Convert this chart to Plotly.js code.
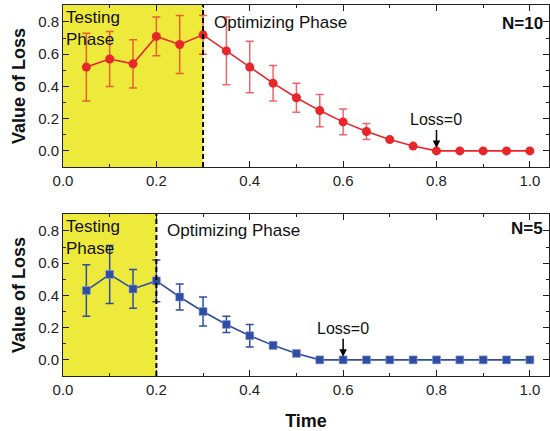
<!DOCTYPE html>
<html>
<head>
<meta charset="utf-8">
<script src="https://cdn.plot.ly/plotly-3.0.1.min.js"></script>
<style>
  html, body { margin: 0; padding: 0; background: #fff; }
  #chart { width: 550px; height: 431px; }
</style>
</head>
<body>
<div id="chart"></div>
<script>
// Time steps shared by both runs
const time = [0.05, 0.10, 0.15, 0.20, 0.25, 0.30, 0.35, 0.40, 0.45, 0.50,
              0.55, 0.60, 0.65, 0.70, 0.75, 0.80, 0.85, 0.90, 0.95, 1.00];

// N = 10 run
const lossN10 = [0.52, 0.57, 0.54, 0.71, 0.66, 0.72, 0.62, 0.52, 0.42, 0.33,
                 0.25, 0.18, 0.12, 0.07, 0.03, 0.00, 0.00, 0.00, 0.00, 0.00];
const errN10  = [0.21, 0.17, 0.15, 0.12, 0.18, 0.12, 0.21, 0.16, 0.11, 0.09,
                 0.10, 0.08, 0.05, 0.01, 0.00, 0.00, 0.00, 0.00, 0.00, 0.00];

// N = 5 run
const lossN5 = [0.43, 0.53, 0.44, 0.49, 0.39, 0.30, 0.22, 0.15, 0.09, 0.04,
                0.00, 0.00, 0.00, 0.00, 0.00, 0.00, 0.00, 0.00, 0.00, 0.00];
const errN5  = [0.16, 0.18, 0.12, 0.13, 0.08, 0.09, 0.05, 0.07, 0.02, 0.00,
                0.00, 0.00, 0.00, 0.00, 0.00, 0.00, 0.00, 0.00, 0.00, 0.00];

// Phase boundaries and the time at which the loss first reaches zero
const testEndN10 = 0.3, zeroAtN10 = 0.8;
const testEndN5  = 0.2, zeroAtN5  = 0.6;

const tickVals = [0.0, 0.2, 0.4, 0.6, 0.8, 1.0];
const tickText = ['0.0', '0.2', '0.4', '0.6', '0.8', '1.0'];
const yTickVals = [0.0, 0.2, 0.4, 0.6, 0.8];
const yTickText = ['0.0', '0.2', '0.4', '0.6', '0.8'];

const FONT = 'Arial, "Liberation Sans", Helvetica, sans-serif';
const RED = '#e8252b';
const BLUE = '#2e4da3';
const YELLOW = '#eeea3c';

const traces = [
  {
    x: time, y: lossN10, xaxis: 'x2', yaxis: 'y2',
    type: 'scatter', mode: 'lines+markers',
    line: { color: RED, width: 1.6 },
    marker: { color: RED, size: 9, symbol: 'circle' },
    error_y: { type: 'data', array: errN10, visible: true,
               color: 'rgba(232,37,43,0.7)', thickness: 1.5, width: 4 },
    showlegend: false, hoverinfo: 'x+y'
  },
  {
    x: time, y: lossN5, xaxis: 'x', yaxis: 'y',
    type: 'scatter', mode: 'lines+markers',
    line: { color: BLUE, width: 1.6 },
    marker: { color: BLUE, size: 8, symbol: 'square',
              line: { color: '#8fa3d6', width: 0.6 } },
    error_y: { type: 'data', array: errN5, visible: true,
               color: BLUE, thickness: 1.5, width: 4 },
    showlegend: false, hoverinfo: 'x+y'
  }
];

function xAxis(anchor) {
  return {
    anchor: anchor, domain: [0, 1], range: [0, 1.041],
    tickvals: tickVals, ticktext: tickText,
    ticks: 'inside', ticklen: 6, tickwidth: 1, tickcolor: '#222',
    minor: { ticks: 'inside', dtick: 0.1, tick0: 0, ticklen: 3, tickcolor: '#222' },
    showline: true, linecolor: '#222', linewidth: 1, mirror: 'allticks',
    showgrid: false, zeroline: false,
    tickfont: { family: FONT, size: 15, color: '#222' }
  };
}

function yAxis(anchor, domain) {
  return {
    anchor: anchor, domain: domain, range: [-0.1, 0.905],
    tickvals: yTickVals, ticktext: yTickText,
    ticks: 'inside', ticklen: 6, tickwidth: 1, tickcolor: '#222',
    minor: { ticks: 'inside', dtick: 0.1, tick0: 0, ticklen: 3, tickcolor: '#222' },
    showline: true, linecolor: '#222', linewidth: 1, mirror: 'allticks',
    showgrid: false, zeroline: false,
    tickfont: { family: FONT, size: 15, color: '#222' },
    title: { text: '<b>Value of Loss</b>', standoff: 7,
             font: { family: FONT, size: 18, color: '#111' } }
  };
}

const xaxisBottom = xAxis('y');
xaxisBottom.title = { text: '<b>Time</b>', standoff: 18,
                      font: { family: FONT, size: 18, color: '#111' } };

function phaseShapes(xref, yref, testEnd) {
  return [
    { type: 'rect', xref: xref, yref: yref + ' domain', x0: 0, x1: testEnd, y0: 0, y1: 1,
      fillcolor: YELLOW, line: { width: 0 }, layer: 'below' },
    { type: 'line', xref: xref, yref: yref + ' domain', x0: testEnd, x1: testEnd, y0: 0, y1: 1,
      line: { color: '#000', width: 2, dash: '5px,3px' }, layer: 'above' }
  ];
}

function phaseLabels(xref, yref, testEnd, nText, nShift, zeroAt) {
  const f = { family: FONT, size: 17, color: '#111' };
  return [
    { xref: xref, yref: yref + ' domain', x: 0, y: 1, xanchor: 'left', yanchor: 'top',
      xshift: 1, yshift: -1, align: 'left', showarrow: false,
      text: 'Testing<br>Phase', font: f },
    { xref: xref, yref: yref + ' domain', x: testEnd, y: 1, xanchor: 'left', yanchor: 'middle',
      xshift: 9, yshift: -17, showarrow: false, text: 'Optimizing Phase', font: f },
    { xref: 'paper', yref: yref + ' domain', x: 1, y: 1, xanchor: 'right', yanchor: 'middle',
      xshift: -4, yshift: nShift, showarrow: false, text: '<b>' + nText + '</b>',
      font: { family: FONT, size: 17, color: '#111' } },
    { xref: xref, yref: yref, x: zeroAt, y: 0, ax: 0, ay: -31,
      showarrow: true, arrowhead: 2, arrowsize: 1, arrowwidth: 1.5, arrowcolor: '#000',
      standoff: 3, text: 'Loss=0', font: { family: FONT, size: 16, color: '#111' } }
  ];
}

const layout = {
  width: 550, height: 431,
  margin: { l: 63, r: 1, t: 5, b: 55, pad: 0 },
  paper_bgcolor: '#fff', plot_bgcolor: '#fff',
  font: { family: FONT, color: '#111' },
  showlegend: false,
  xaxis: xaxisBottom,
  yaxis: yAxis('x', [0, 0.4367]),
  xaxis2: xAxis('y2'),
  yaxis2: yAxis('x2', [0.5633, 1]),
  shapes: [].concat(
    phaseShapes('x2', 'y2', testEndN10),
    phaseShapes('x', 'y', testEndN5)
  ),
  annotations: [].concat(
    phaseLabels('x2', 'y2', testEndN10, 'N=10', -18, zeroAtN10),
    phaseLabels('x', 'y', testEndN5, 'N=5', -15, zeroAtN5)
  )
};

Plotly.newPlot('chart', traces, layout, { displayModeBar: false, staticPlot: true });
</script>
</body>
</html>
